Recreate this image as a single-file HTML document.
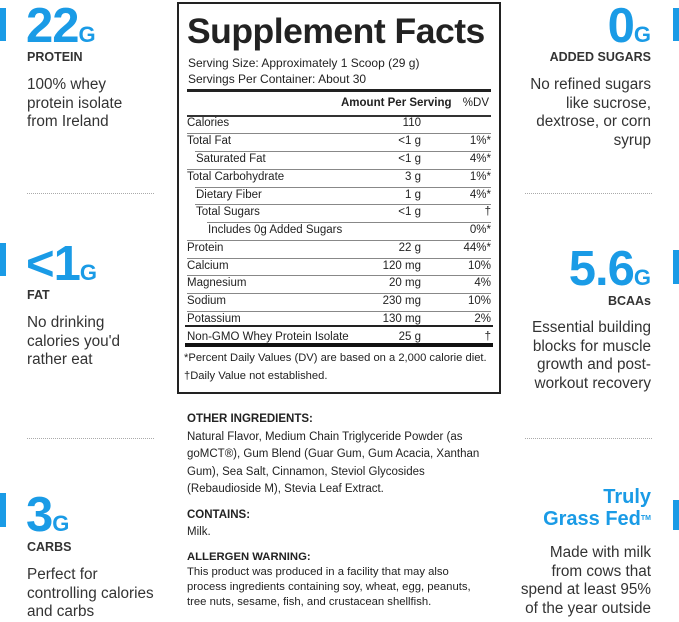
<!DOCTYPE html>
<html><head><style>
*{margin:0;padding:0;box-sizing:border-box}
body{width:679px;height:619px;background:#fff;position:relative;overflow:hidden;font-family:"Liberation Sans",sans-serif;color:#2a2a2a}
.a{position:absolute;white-space:nowrap}
.big{font-weight:bold;color:#1a9be6;font-size:49px;letter-spacing:-1px;line-height:1}
.big span{font-size:22px;letter-spacing:0}
.lab{font-weight:bold;font-size:12.5px;color:#333}
.desc{font-size:15.3px;line-height:18.5px;color:#333}
.bar{position:absolute;width:6px;background:#1a9be6}
.dot{position:absolute;width:127px;border-top:1px dotted #aaa}
.r{text-align:right}
.box{position:absolute;left:177px;top:2px;width:324px;height:392px;border:2px solid #222}
.t{position:absolute;font-size:11.5px;color:#222;white-space:nowrap}
.ln{position:absolute;left:8px;right:8px;border-top:1px solid #555}
</style></head><body>
<div class="bar" style="left:0;top:8px;height:33px"></div>
<div class="bar" style="left:0;top:243px;height:33px"></div>
<div class="bar" style="left:0;top:493px;height:34px"></div>
<div class="bar" style="left:673px;top:8px;height:33px"></div>
<div class="bar" style="left:673px;top:250px;height:34px"></div>
<div class="bar" style="left:673px;top:500px;height:30px"></div>

<div class="a big" style="left:26px;top:2px">22<span>G</span></div>
<div class="a lab" style="left:27px;top:50px">PROTEIN</div>
<div class="a desc" style="left:27px;top:76px">100% whey<br>protein isolate<br>from Ireland</div>
<div class="dot" style="left:27px;top:193px"></div>

<div class="a big" style="left:26px;top:240px">&lt;1<span>G</span></div>
<div class="a lab" style="left:27px;top:288px">FAT</div>
<div class="a desc" style="left:27px;top:314px">No drinking<br>calories you'd<br>rather eat</div>
<div class="dot" style="left:27px;top:438px"></div>

<div class="a big" style="left:26px;top:491px">3<span>G</span></div>
<div class="a lab" style="left:27px;top:540px">CARBS</div>
<div class="a desc" style="left:27px;top:566px">Perfect for<br>controlling calories<br>and carbs</div>

<div class="a big r" style="right:28px;top:2px">0<span>G</span></div>
<div class="a lab r" style="right:28px;top:50px">ADDED SUGARS</div>
<div class="a desc r" style="right:28px;top:76px">No refined sugars<br>like sucrose,<br>dextrose, or corn<br>syrup</div>
<div class="dot" style="left:525px;top:193px"></div>

<div class="a big r" style="right:28px;top:245px">5.6<span>G</span></div>
<div class="a lab r" style="right:28px;top:294px">BCAAs</div>
<div class="a desc r" style="right:28px;top:319px">Essential building<br>blocks for muscle<br>growth and post-<br>workout recovery</div>
<div class="dot" style="left:525px;top:438px"></div>

<div class="a r" style="right:28px;top:486px;font-weight:bold;color:#1a9be6;font-size:20px;line-height:22px">Truly<br>Grass Fed<sup style="font-size:7px;vertical-align:top">TM</sup></div>
<div class="a desc r" style="right:28px;top:544px">Made with milk<br>from cows that<br>spend at least 95%<br>of the year outside</div>

<div class="box">
<div class="t" style="left:8px;top:7px;font-size:35.5px;font-weight:bold;letter-spacing:-0.5px">Supplement Facts</div>
<div class="t" style="left:9px;top:52px;font-size:12px">Serving Size: Approximately 1 Scoop (29 g)</div>
<div class="t" style="left:9px;top:68px;font-size:12px">Servings Per Container: About 30</div>
<div class="ln" style="top:85px;border-top:3px solid #222"></div>
<div class="t" style="left:162px;top:93px;font-weight:bold">Amount Per Serving</div>
<div class="t" style="right:10px;top:93px">%DV</div>
<div class="ln" style="top:111px;border-top:2px solid #333"></div>
</div>
<div class="box" style="border:none;background:none">
<div class="ln" style="top:323px;border-top:2px solid #222"></div>
<div class="ln" style="top:341px;border-top:4px solid #111"></div>
<div class="t" style="left:7px;top:350px;font-size:11.2px">*Percent Daily Values (DV) are based on a 2,000 calorie diet.</div>
<div class="t" style="left:7px;top:368px;font-size:11.2px">†Daily Value not established.</div>
</div>

<div class="a" style="left:187px;top:411px;font-size:11.5px;line-height:17.5px;color:#222">
<b>OTHER INGREDIENTS:</b><br>Natural Flavor, Medium Chain Triglyceride Powder (as<br>goMCT®), Gum Blend (Guar Gum, Gum Acacia, Xanthan<br>Gum), Sea Salt, Cinnamon, Steviol Glycosides<br>(Rebaudioside M), Stevia Leaf Extract.
</div>
<div class="a" style="left:187px;top:507px;font-size:11.5px;line-height:17px;color:#222"><b>CONTAINS:</b><br>Milk.</div>
<div class="a" style="left:187px;top:550px;font-size:11.3px;line-height:15px;color:#222"><b>ALLERGEN WARNING:</b><br>This product was produced in a facility that may also<br>process ingredients containing soy, wheat, egg, peanuts,<br>tree nuts, sesame, fish, and crustacean shellfish.</div>

<div style="position:absolute;left:179px;top:4px;width:320px;height:388px">
<div class="t" style="left:8px;top:113px">Calories</div><div class="t" style="right:78px;top:113px">110</div>
<div class="ln" style="top:129px;border-color:#888"></div>
<div class="t" style="left:8px;top:131px">Total Fat</div><div class="t" style="right:78px;top:131px">&lt;1 g</div><div class="t" style="right:8px;top:131px">1%*</div>
<div class="ln" style="top:147px;left:16px;border-color:#888"></div>
<div class="t" style="left:17px;top:149px">Saturated Fat</div><div class="t" style="right:78px;top:149px">&lt;1 g</div><div class="t" style="right:8px;top:149px">4%*</div>
<div class="ln" style="top:165px;border-color:#888"></div>
<div class="t" style="left:8px;top:167px">Total Carbohydrate</div><div class="t" style="right:78px;top:167px">3 g</div><div class="t" style="right:8px;top:167px">1%*</div>
<div class="ln" style="top:183px;left:16px;border-color:#888"></div>
<div class="t" style="left:17px;top:185px">Dietary Fiber</div><div class="t" style="right:78px;top:185px">1 g</div><div class="t" style="right:8px;top:185px">4%*</div>
<div class="ln" style="top:200px;left:16px;border-color:#888"></div>
<div class="t" style="left:17px;top:202px">Total Sugars</div><div class="t" style="right:78px;top:202px">&lt;1 g</div><div class="t" style="right:8px;top:202px">†</div>
<div class="ln" style="top:218px;left:28px;border-color:#888"></div>
<div class="t" style="left:29px;top:220px">Includes 0g Added Sugars</div><div class="t" style="right:8px;top:220px">0%*</div>
<div class="ln" style="top:236px;border-color:#888"></div>
<div class="t" style="left:8px;top:238px">Protein</div><div class="t" style="right:78px;top:238px">22 g</div><div class="t" style="right:8px;top:238px">44%*</div>
<div class="ln" style="top:254px;border-color:#888"></div>
<div class="t" style="left:8px;top:256px">Calcium</div><div class="t" style="right:78px;top:256px">120 mg</div><div class="t" style="right:8px;top:256px">10%</div>
<div class="ln" style="top:271px;border-color:#888"></div>
<div class="t" style="left:8px;top:273px">Magnesium</div><div class="t" style="right:78px;top:273px">20 mg</div><div class="t" style="right:8px;top:273px">4%</div>
<div class="ln" style="top:289px;border-color:#888"></div>
<div class="t" style="left:8px;top:291px">Sodium</div><div class="t" style="right:78px;top:291px">230 mg</div><div class="t" style="right:8px;top:291px">10%</div>
<div class="ln" style="top:307px;border-color:#888"></div>
<div class="t" style="left:8px;top:309px">Potassium</div><div class="t" style="right:78px;top:309px">130 mg</div><div class="t" style="right:8px;top:309px">2%</div>
<div class="t" style="left:8px;top:327px">Non-GMO Whey Protein Isolate</div><div class="t" style="right:78px;top:327px">25 g</div><div class="t" style="right:8px;top:327px">†</div>
</div>
</body></html>
